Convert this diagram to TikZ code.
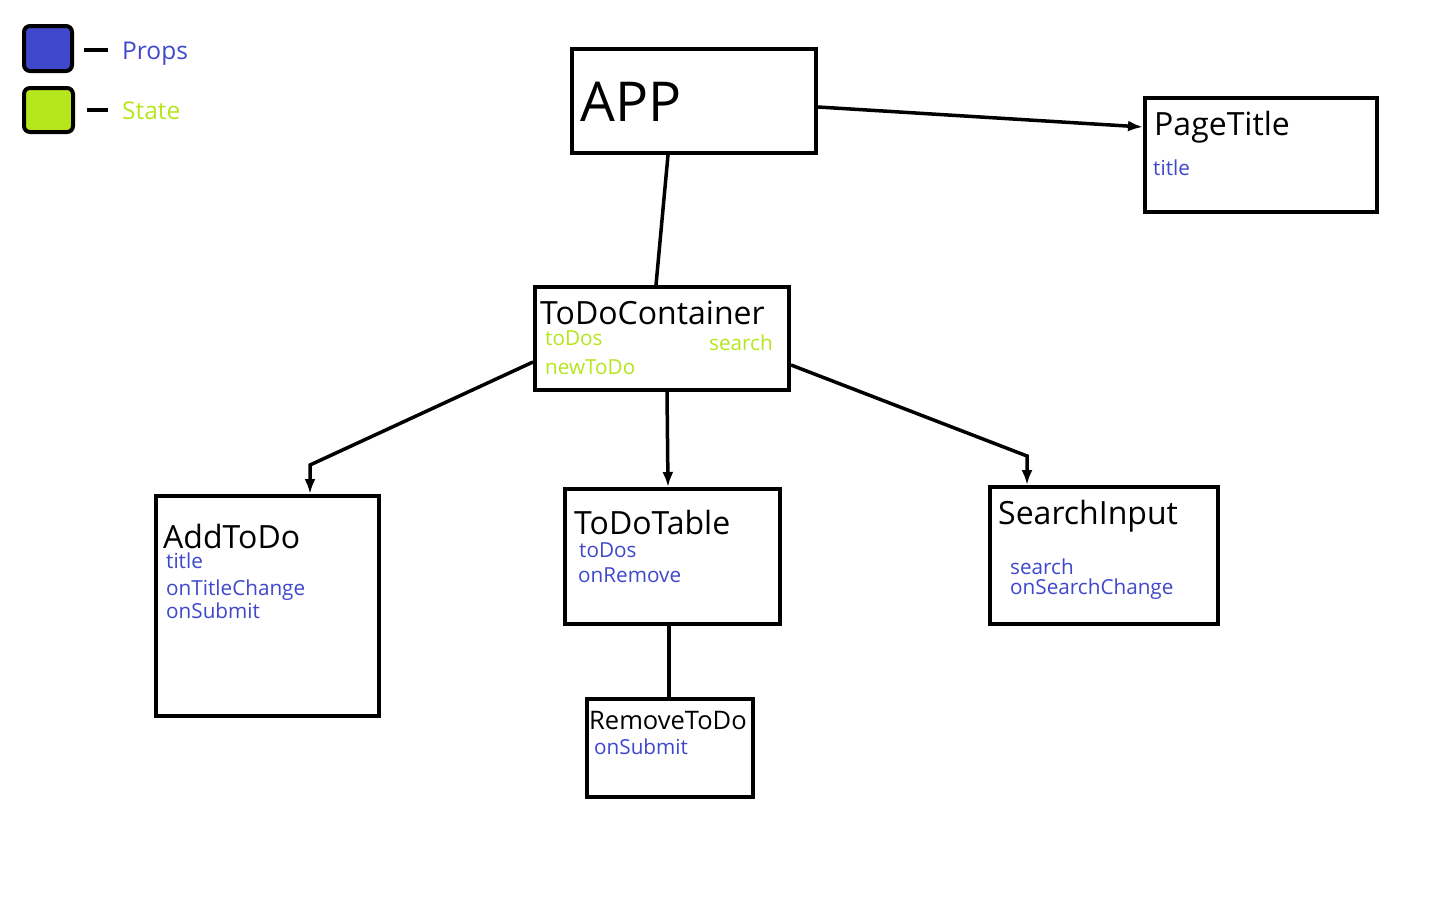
\documentclass[tikz,border=0pt]{standalone}
\usepackage{fontspec}
\setmainfont{Open Sans}
\usetikzlibrary{arrows.meta}
\definecolor{propc}{HTML}{3F48CC}
\definecolor{statec}{HTML}{B5E61D}
\tikzset{
  box/.style={draw=black, line width=4pt, inner sep=0pt, fill=white},
  conn/.style={line width=3.5pt, draw=black},
  arr/.style={conn, arrows={-Latex[length=15pt,width=11pt]}},
  ttl/.style={anchor=west, inner sep=0pt, font=\fontsize{32}{32}\selectfont, text=black},
  prp/.style={anchor=west, inner sep=0pt, font=\fontsize{20.7}{21}\selectfont, text=propc},
  stt/.style={anchor=west, inner sep=0pt, font=\fontsize{20.7}{21}\selectfont, text=statec},
  leg/.style={draw=black, line width=4pt, rounded corners=6pt},
}
\begin{document}
\begin{tikzpicture}[x=1pt,y=-1pt]
\useasboundingbox (0,0) rectangle (1445,916);
% legend
\path[leg, fill=propc] (24,26) rectangle (72,71);
\path[leg, fill=statec] (24,88) rectangle (73,132);
\draw[line width=4pt] (84,50) -- (108,50);
\draw[line width=4pt] (87,110) -- (108,110);
\node[anchor=west, inner sep=0pt, font=\fontsize{24.5}{24}\selectfont, text=propc] (lp) at (122,54) {Props};
\node[anchor=west, inner sep=0pt, font=\fontsize{24.5}{24}\selectfont, text=statec] (ls) at (122,111) {State};
% boxes
\node[box, minimum width=244pt, minimum height=104pt] (app) at (694,101) {};
\node[box, minimum width=232pt, minimum height=114pt] (pt) at (1261,155) {};
\node[box, minimum width=254pt, minimum height=103pt] (tdc) at (662,338.5) {};
\node[box, minimum width=223pt, minimum height=220pt] (add) at (267.5,606) {};
\node[box, minimum width=215pt, minimum height=135pt] (tab) at (672.5,556.5) {};
\node[box, minimum width=228pt, minimum height=137pt] (srch) at (1104,555.5) {};
\node[box, minimum width=166pt, minimum height=98pt] (rem) at (670,748) {};
% texts
\node[anchor=west, inner sep=0pt, font=\fontsize{55}{55}\selectfont] (appt) at (580,102) {APP};
\node[ttl] (ptt) at (1154,127) {PageTitle};
\node[prp] (ptp) at (1153,168) {title};
\node[ttl] (tdct) at (540,313) {ToDoContainer};
\node[stt] (tdc1) at (545,338) {toDos};
\node[stt, anchor=east] (tdc2) at (773,343) {search};
\node[stt] (tdc3) at (545,367) {newToDo};
\node[ttl] (addt) at (163,536) {AddToDo};
\node[prp] (add1) at (166,561) {title};
\node[prp] (add2) at (166,590) {onTitleChange};
\node[prp] (add3) at (166,611) {onSubmit};
\node[ttl] (tabt) at (574,522) {ToDoTable};
\node[prp] (tab1) at (579,550) {toDos};
\node[prp] (tab2) at (578,575) {onRemove};
\node[ttl] (srt) at (998,516) {SearchInput};
\node[prp] (sr1) at (1010,567) {search};
\node[prp] (sr2) at (1010,589) {onSearchChange};
\node[anchor=west, inner sep=0pt, font=\fontsize{25.5}{25}\selectfont] (remt) at (589,721) {RemoveToDo};
\node[prp] (rem1) at (594,747) {onSubmit};
% connectors
\coordinate (b1) at (310,465);
\coordinate (b2) at (1027,456);
\draw[arr] ([yshift=-6pt]app.east) -- ([yshift=28pt]pt.west);
\draw[conn] ([xshift=-26pt]app.south) -- ([xshift=-6pt]tdc.north);
\draw[arr] ([yshift=-23.5pt]tdc.west) -- (b1) -- ([xshift=42.5pt]add.north);
\draw[arr] ([xshift=5pt]tdc.south) -- ([xshift=-4.5pt]tab.north);
\draw[arr] ([yshift=-26.5pt]tdc.east) -- (b2) -- ([xshift=-77pt]srch.north);
\draw[conn] ([xshift=-3.5pt]tab.south) -- ([xshift=-1pt]rem.north);
\end{tikzpicture}
\end{document}
